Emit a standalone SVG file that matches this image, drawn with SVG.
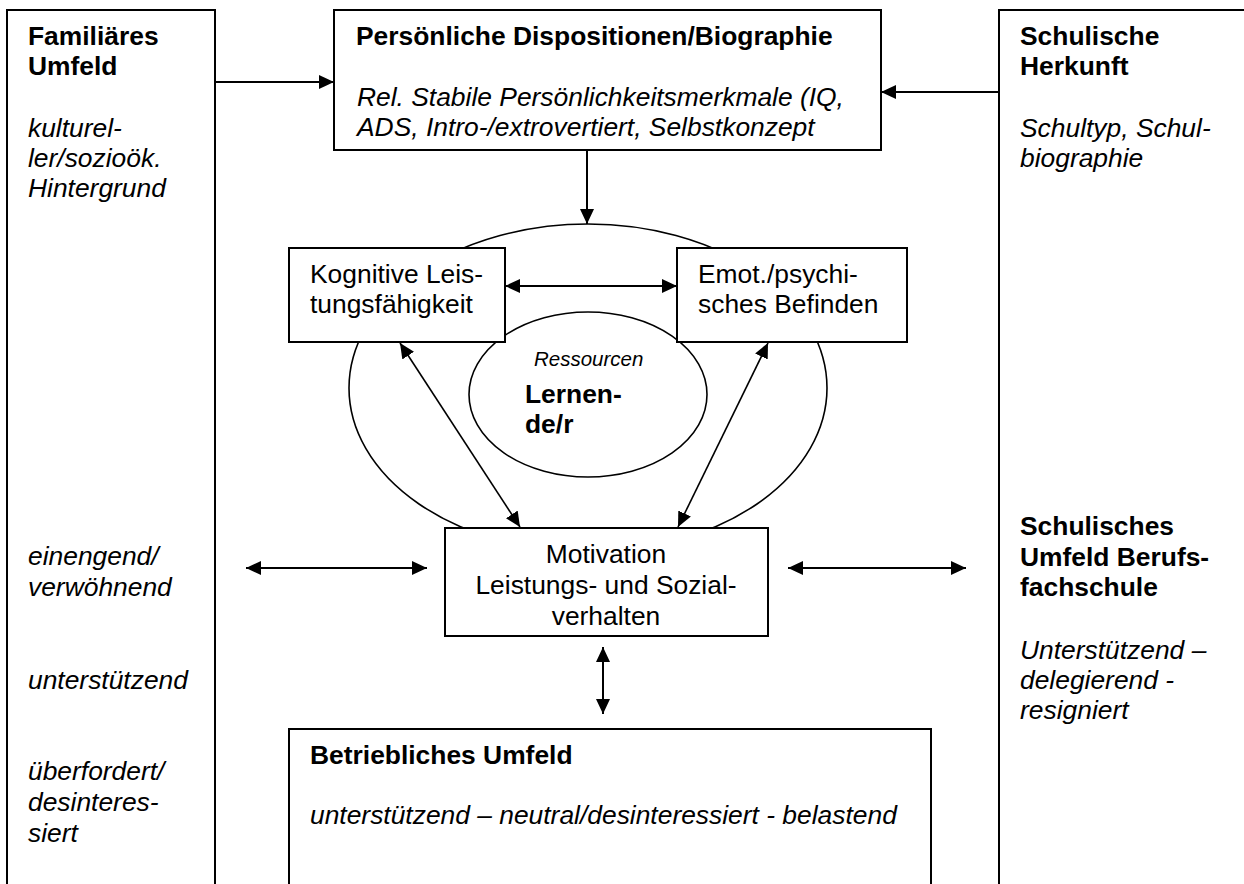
<svg xmlns="http://www.w3.org/2000/svg" width="1244" height="884" viewBox="0 0 1244 884">
<style>
text{font-family:"Liberation Sans",Arial,sans-serif;font-size:26.4px;fill:#000}
.b{font-weight:bold}
.i{font-style:italic}
.box{fill:#fff;stroke:#000;stroke-width:2}
.ell{fill:none;stroke:#000;stroke-width:1.6}
.con{fill:none;stroke:#000;stroke-width:2}
.diag{fill:none;stroke:#000;stroke-width:1.6}
</style>
<defs>
<marker id="ah" markerUnits="userSpaceOnUse" markerWidth="16" markerHeight="16" viewBox="0 0 16 14" refX="15" refY="7" orient="auto-start-reverse">
<path d="M0,0 L15,7 L0,14 z" fill="#000"/>
</marker>
</defs>
<rect width="1244" height="884" fill="#fff"/>

<g id="familiaeres-umfeld">
<rect class="box" x="7" y="10" width="208" height="900"/>
<text class="b" x="28" y="45">Familiäres</text>
<text class="b" x="28" y="75">Umfeld</text>
<text class="i" x="28" y="137">kulturel-</text>
<text class="i" x="28" y="167">ler/sozioök.</text>
<text class="i" x="28" y="197">Hintergrund</text>
<text class="i" x="28" y="565">einengend/</text>
<text class="i" x="28" y="596">verwöhnend</text>
<text class="i" x="28" y="689">unterstützend</text>
<text class="i" x="28" y="780">überfordert/</text>
<text class="i" x="28" y="811">desinteres-</text>
<text class="i" x="28" y="842">siert</text>
</g>

<g id="schulische-herkunft">
<rect class="box" x="999" y="10" width="300" height="900"/>
<text class="b" x="1020" y="45">Schulische</text>
<text class="b" x="1020" y="75">Herkunft</text>
<text class="i" x="1020" y="137">Schultyp, Schul-</text>
<text class="i" x="1020" y="167">biographie</text>
<text class="b" x="1020" y="535">Schulisches</text>
<text class="b" x="1020" y="566">Umfeld Berufs-</text>
<text class="b" x="1020" y="596">fachschule</text>
<text class="i" x="1020" y="659">Unterstützend –</text>
<text class="i" x="1020" y="689">delegierend -</text>
<text class="i" x="1020" y="719">resigniert</text>
</g>

<g id="lernende">
<ellipse class="ell" cx="588" cy="388" rx="239" ry="164"/>
<ellipse class="ell" cx="588" cy="394.5" rx="119" ry="82.5"/>
<text class="i" x="534" y="366" style="font-size:20.5px">Ressourcen</text>
<text class="b" x="525" y="403">Lernen-</text>
<text class="b" x="525" y="433">de/r</text>
</g>

<g id="persoenliche-dispositionen">
<rect class="box" x="334" y="10" width="547" height="140"/>
<text class="b" x="356" y="45">Persönliche Dispositionen/Biographie</text>
<text class="i" x="357" y="106">Rel. Stabile Persönlichkeitsmerkmale (IQ,</text>
<text class="i" x="357" y="136">ADS, Intro-/extrovertiert, Selbstkonzept</text>
</g>

<g id="kognitive-leistungsfaehigkeit">
<rect class="box" x="289" y="248" width="216" height="94"/>
<text x="310" y="283">Kognitive Leis-</text>
<text x="310" y="313">tungsfähigkeit</text>
</g>

<g id="emotionales-befinden">
<rect class="box" x="677" y="248" width="230" height="94"/>
<text x="698" y="283">Emot./psychi-</text>
<text x="698" y="313">sches Befinden</text>
</g>

<g id="motivation">
<rect class="box" x="445" y="528" width="323" height="108"/>
<text x="606" y="563" text-anchor="middle">Motivation</text>
<text x="606" y="594" text-anchor="middle">Leistungs- und Sozial-</text>
<text x="606" y="625" text-anchor="middle">verhalten</text>
</g>

<g id="betriebliches-umfeld">
<rect class="box" x="289" y="729" width="642" height="200"/>
<text class="b" x="310" y="764">Betriebliches Umfeld</text>
<text class="i" x="310" y="824">unterstützend – neutral/desinteressiert - belastend</text>
</g>

<g id="connectors">
<line class="con" x1="215" y1="82" x2="334" y2="82" marker-end="url(#ah)"/>
<line class="con" x1="999" y1="92" x2="881" y2="92" marker-end="url(#ah)"/>
<line class="con" x1="587" y1="150" x2="587" y2="224" marker-end="url(#ah)"/>
<line class="con" x1="505" y1="286" x2="677" y2="286" marker-start="url(#ah)" marker-end="url(#ah)"/>
<line class="diag" x1="400" y1="343" x2="520" y2="527" marker-start="url(#ah)" marker-end="url(#ah)"/>
<line class="diag" x1="768" y1="343" x2="678" y2="527" marker-start="url(#ah)" marker-end="url(#ah)"/>
<line class="con" x1="246" y1="568" x2="427" y2="568" marker-start="url(#ah)" marker-end="url(#ah)"/>
<line class="con" x1="788" y1="568" x2="966" y2="568" marker-start="url(#ah)" marker-end="url(#ah)"/>
<line class="con" x1="603" y1="647" x2="603" y2="714" marker-start="url(#ah)" marker-end="url(#ah)"/>
</g>
</svg>
